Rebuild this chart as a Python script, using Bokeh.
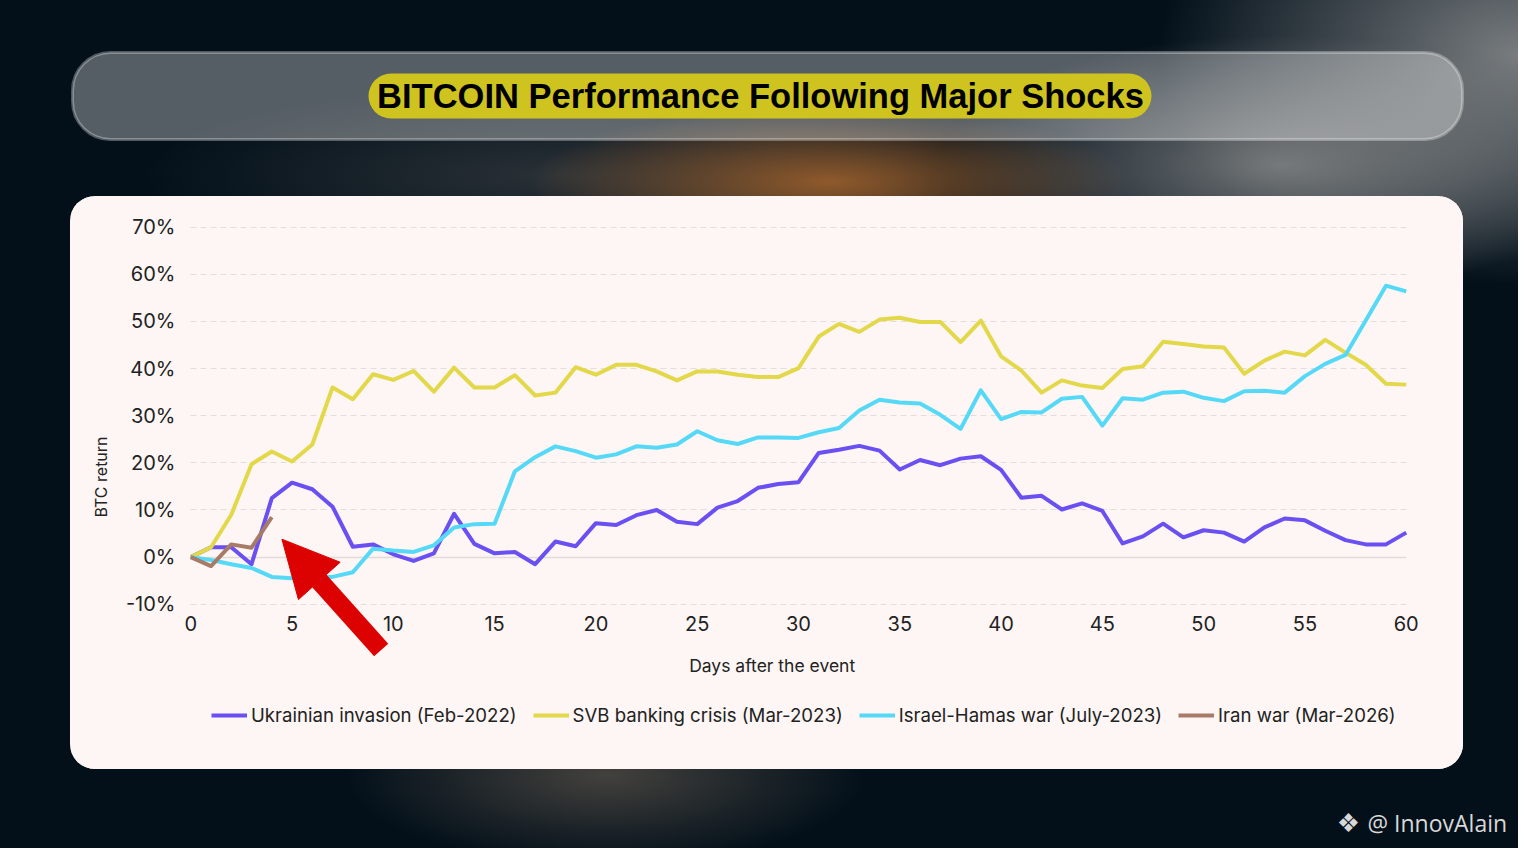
from bokeh.plotting import figure
from bokeh.layouts import column
from bokeh.models import (FixedTicker, PrintfTickFormatter, Legend, LegendItem, Grid,
                          Label, BoxAnnotation, Arrow, NormalHead, Range1d)
from bokeh.embed import file_html
from bokeh.resources import INLINE

TITLE = "BITCOIN Performance Following Major Shocks"
FONT = "Inter"
CARD = "#fdf6f4"
TEXT = "#222222"
RED = "#dd0202"

days = list(range(0, 61))

ukraine = [0, 2.1, 2.1, -1.5, 12.5, 15.8, 14.4, 10.7, 2.2, 2.7,
           0.6, -0.8, 0.8, 9.2, 2.8, 0.8, 1.1, -1.5, 3.3, 2.3,
           7.2, 6.8, 8.9, 10.0, 7.5, 7.0, 10.5, 11.9, 14.7, 15.5,
           15.9, 22.1, 22.8, 23.6, 22.6, 18.6, 20.6, 19.5, 20.9, 21.4,
           18.5, 12.6, 13.0, 10.1, 11.4, 9.8, 2.9, 4.4, 7.1, 4.2,
           5.7, 5.2, 3.3, 6.3, 8.2, 7.8, 5.6, 3.6, 2.7, 2.7, 5.2]

svb = [0, 2.1, 9.0, 19.7, 22.4, 20.3, 23.9, 36.0, 33.5, 38.8,
       37.6, 39.5, 35.1, 40.2, 36.0, 36.0, 38.6, 34.3, 34.9, 40.3,
       38.7, 40.8, 40.8, 39.4, 37.5, 39.4, 39.4, 38.7, 38.2, 38.2,
       40.1, 46.8, 49.5, 47.8, 50.4, 50.8, 49.9, 49.9, 45.6, 50.2,
       42.6, 39.6, 34.9, 37.5, 36.4, 35.9, 39.9, 40.5, 45.7, 45.2,
       44.7, 44.5, 38.9, 41.7, 43.6, 42.8, 46.1, 43.4, 40.8, 36.8, 36.6]

israel = [0, -0.6, -1.5, -2.3, -4.2, -4.5, -4.2, -4.2, -3.2, 1.8,
          1.4, 1.1, 2.5, 6.3, 7.0, 7.1, 18.2, 21.2, 23.5, 22.5,
          21.1, 21.8, 23.5, 23.2, 23.9, 26.7, 24.8, 24.0, 25.4, 25.4,
          25.3, 26.5, 27.4, 31.1, 33.4, 32.8, 32.6, 30.2, 27.2, 35.4,
          29.3, 30.8, 30.7, 33.6, 34.0, 27.9, 33.7, 33.4, 34.9, 35.1,
          33.8, 33.1, 35.2, 35.3, 34.9, 38.4, 41.0, 42.9, 50.2, 57.6, 56.4]

iran = [0, -1.9, 2.7, 2.0, 8.5]

series = [
    ("Ukrainian invasion (Feb-2022)", ukraine, "#6a4ff2"),
    ("SVB banking crisis (Mar-2023)", svb, "#e3d84a"),
    ("Israel-Hamas war (July-2023)", israel, "#55d9f7"),
    ("Iran war (Mar-2026)", iran, "#a87a68"),
]

y_ticks = [-10, 0, 10, 20, 30, 40, 50, 60, 70]
x_ticks = [0, 5, 10, 15, 20, 25, 30, 35, 40, 45, 50, 55, 60]

# arrow pointing at the latest (Iran) series, in data units
arrow_tail = (9.4, -19.7)
arrow_tip = (4.5, 3.8)

W = 1518


def blank(height):
    p = figure(width=W, height=height, output_backend="svg", toolbar_location=None,
               tools="", x_range=Range1d(0, W), y_range=Range1d(height, 0),
               x_axis_location=None, y_axis_location=None, min_border=0,
               frame_align=False)
    p.grid.visible = False
    p.outline_line_color = None
    p.background_fill_alpha = 0
    p.border_fill_alpha = 0
    return p


# header with the title pill
head = blank(196)
head.add_layout(BoxAnnotation(left=72, right=1462, top=52, bottom=139, border_radius=38,
                              fill_color="white", fill_alpha=0.33,
                              line_color="white", line_width=3))
head.add_layout(BoxAnnotation(left=368, right=1151, top=73, bottom=118, border_radius=23,
                              fill_color="#cfc41f", fill_alpha=1, line_color=None))
head.add_layout(Label(x=760, y=95, text=TITLE, text_align="center", text_baseline="middle",
                      text_font="Liberation Sans", text_font_style="bold",
                      text_font_size="34.5px", text_color="black"))

# the chart card; the frame runs past 0..60 and well below -10% so the end tick
# labels, the arrow and the legend are not clipped
p = figure(width=1393, height=573, output_backend="svg", toolbar_location=None, tools="",
           x_range=(-1, 61), y_range=(-37, 71), frame_align=False,
           min_border_left=100, min_border_right=37, min_border_top=26, min_border_bottom=38,
           margin=(0, 0, 0, 70),
           styles={"border-radius": "25px", "overflow": "hidden", "background-color": CARD})
p.background_fill_color = CARD
p.border_fill_color = CARD
p.outline_line_color = None
p.xgrid.visible = False

grid = p.ygrid[0]
grid.ticker = FixedTicker(ticks=[t for t in y_ticks if t != 0])
grid.grid_line_color = "#e4dedb"
grid.grid_line_dash = "6 4"
zero = Grid(dimension=1, ticker=FixedTicker(ticks=[0]), grid_line_color="#e2dcd9",
            grid_line_width=1.5)
p.add_layout(zero)
for g in (grid, zero):
    try:
        g.cross_bounds = (0, 60)
    except AttributeError:
        pass

items = []
for label, vals, colour in series:
    r = p.line(days[:len(vals)], vals, line_width=4, line_color=colour, line_join="round")
    items.append(LegendItem(label=label, renderers=[r]))

p.add_layout(Arrow(end=NormalHead(size=56, fill_color=RED, line_color=RED),
                   x_start=arrow_tail[0], y_start=arrow_tail[1],
                   x_end=arrow_tip[0], y_end=arrow_tip[1],
                   line_color=RED, line_width=19))

for ax in (p.xaxis, p.yaxis):
    ax.axis_line_color = None
    ax.major_tick_line_color = None
    ax.minor_tick_line_color = None
    ax.major_label_text_font = FONT
    ax.major_label_text_font_size = "20px"
    ax.major_label_text_color = TEXT
    ax.axis_label_text_font = FONT
    ax.axis_label_text_font_style = "normal"
    ax.axis_label_text_color = TEXT

p.yaxis.ticker = FixedTicker(ticks=y_ticks)
p.yaxis.formatter = PrintfTickFormatter(format="%d%%")
p.yaxis.major_label_standoff = -11
p.yaxis.axis_label = "BTC return"
p.yaxis.axis_label_text_font_size = "16px"
p.yaxis.axis_label_standoff = 12

p.xaxis.ticker = FixedTicker(ticks=x_ticks)
p.xaxis.fixed_location = -11
p.xaxis.major_label_standoff = 1
p.add_layout(Label(x=28.7, y=-23.1, text="Days after the event", text_align="center",
                   text_baseline="middle", text_font=FONT, text_font_size="17.5px",
                   text_color=TEXT))

legend = Legend(items=items, location=(41, 5), orientation="horizontal",
                padding=0, margin=0, spacing=16, glyph_width=36, glyph_height=20,
                label_height=20, label_standoff=4,
                label_text_font=FONT, label_text_font_size="18.6px", label_text_color=TEXT,
                background_fill_alpha=0, border_line_color=None)
p.add_layout(legend)

# footer with the watermark
foot = blank(79)
foot.add_layout(Label(x=1348, y=53, text="\u2756", text_align="center", text_baseline="middle",
                      text_font="DejaVu Sans", text_font_size="26px", text_color="#d8d8d8"))
foot.add_layout(Label(x=1367, y=53, text="@ InnovAlain", text_align="left",
                      text_baseline="middle", text_font="Open Sans", text_font_size="23px",
                      text_color="#d8d8d8"))

bg = ("radial-gradient(ellipse 300px 75px at 830px 182px, rgba(175,105,45,0.8), rgba(175,105,45,0) 100%), "
      "radial-gradient(ellipse 340px 130px at 1280px 165px, rgba(150,150,150,0.75), rgba(150,150,150,0) 100%), "
      "radial-gradient(ellipse 360px 230px at 1518px 55px, rgba(170,170,170,0.7), rgba(170,170,170,0) 100%), "
      "radial-gradient(ellipse 420px 90px at 560px 175px, rgba(90,90,90,0.45), rgba(90,90,90,0) 100%), "
      "radial-gradient(ellipse 260px 90px at 606px 775px, rgba(120,105,90,0.55), rgba(120,105,90,0) 100%), "
      "#03101a")

page = column(head, p, foot, width=W, height=848, spacing=0, styles={"background": bg})

open("out.html", "w").write(file_html(page, INLINE))
